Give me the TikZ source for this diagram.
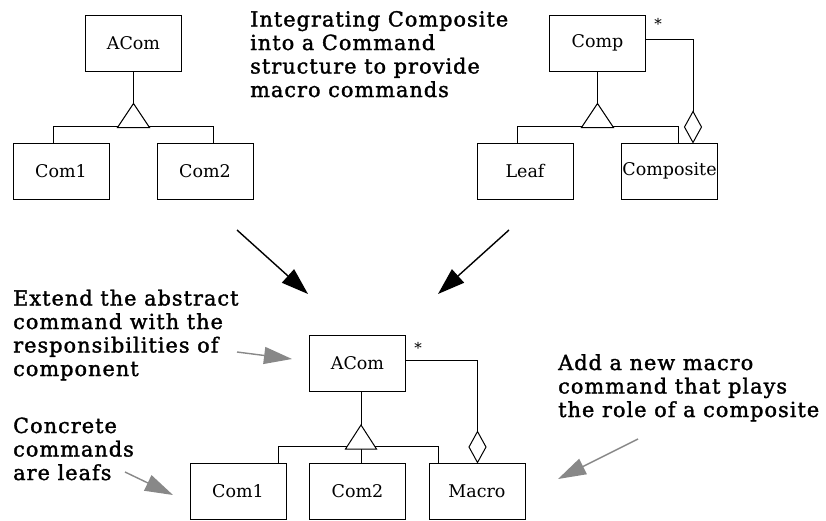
\documentclass[tikz,border=0pt]{standalone}
\usepackage{fontspec}
\setmainfont{DejaVu Serif}
\newfontfamily\notefont[FakeBold=1.6,LetterSpace=5]{DejaVu Serif}
\usetikzlibrary{arrows.meta,calc}
\definecolor{arrowgrey}{RGB}{136,136,136}
\begin{document}
\begin{tikzpicture}[x=1pt,y=-1pt,
  cls/.style={draw,line width=1pt,minimum width=96pt,minimum height=56pt,inner sep=0pt,font=\fontsize{17.5}{19}\selectfont},
  note/.style={align=left,inner sep=0pt,anchor=base west,font=\notefont\fontsize{20.8}{23.5}\selectfont},
  link/.style={line width=1pt},
  star/.style={inner sep=0pt,font=\fontsize{15}{15}\selectfont},
  bigarrow/.style={line width=1.4pt,-{Triangle[length=27pt,width=18pt]}},
  greyarrow/.style={draw=arrowgrey,fill=arrowgrey,line width=1.4pt,-{Triangle[length=28pt,width=17pt]}}]
\useasboundingbox (0,0) rectangle (826,520);

% ---- top left: command hierarchy
\node[cls] (a1) at (133.5,43) {ACom};
\node[cls] (c11) at (61,171) {Com1};
\node[cls] (c12) at (205,171) {Com2};
\coordinate (t1) at ($(a1.south)+(0,32)$);
\draw[link] (a1.south) -- (t1);
\draw[link] ([xshift=-8pt]c11.north) -- ++(0,-16) -| ([xshift=8pt]c12.north);
\draw[link,fill=white] (t1) -- ++(-16,24) -- ++(32,0) -- cycle;

% ---- top right: composite
\node[cls] (cp) at (597.5,43) {Comp};
\node[cls] (lf) at (525,171) {Leaf};
\node[cls] (cs) at (669.5,171) {Composite};
\coordinate (t2) at ($(cp.south)+(0,32)$);
\draw[link] (cp.south) -- (t2);
\draw[link] ([xshift=-8pt]lf.north) -- ++(0,-16) -| ([xshift=8.5pt]cs.north);
\draw[link,fill=white] (t2) -- ++(-16,24) -- ++(32,0) -- cycle;
\coordinate (d2) at ($(cs.north)+(23.5,0)$);
\draw[link] ([yshift=4pt]cp.east) -| ($(d2)+(0,-31)$);
\draw[link,fill=white] (d2) -- ++(8.5,-15.5) -- ++(-8.5,-15.5) -- ++(-8.5,15.5) -- cycle;
\node[star] (s1) at (658,24) {*};

% ---- bottom: macro command
\node[cls] (a3) at (357.5,363.5) {ACom};
\node[cls] (c31) at (238,491) {Com1};
\node[cls] (c32) at (357.5,491) {Com2};
\node[cls] (mc) at (477,491) {Macro};
\coordinate (t3) at ($(a3.south)+(3.5,33)$);
\draw[link] ([xshift=3.5pt]a3.south) -- (t3);
\draw[link] ([xshift=40pt]c31.north) -- ++(0,-16) -| ([xshift=-39pt]mc.north);
\draw[link] ($(t3)+(0,24)$) -- ([xshift=3.5pt]c32.north);
\draw[link,fill=white] (t3) -- ++(-15.5,24) -- ++(31,0) -- cycle;
\coordinate (d3) at ($(mc.north)+(0.5,0)$);
\draw[link] ([yshift=3.5pt]a3.east) -| ($(d3)+(0,-31)$);
\draw[link,fill=white] (d3) -- ++(8.5,-15.5) -- ++(-8.5,-15.5) -- ++(-8.5,15.5) -- cycle;
\node[star] (s2) at (418,348) {*};

% ---- big arrows
\coordinate (ba1s) at (237,230); \coordinate (ba1e) at (308,294);
\coordinate (ba2s) at (509,230); \coordinate (ba2e) at (438,294);
\draw[bigarrow] (ba1s) -- (ba1e);
\draw[bigarrow] (ba2s) -- (ba2e);

% ---- notes (anchored at the baseline of their last line)
\node[note] (title) at (250,97) {Integrating Composite\\into a Command\\structure to provide\\macro commands};
\node[note] (ext) at (13,376) {Extend the abstract\\command with the\\responsibilities of\\component};
\node[note] (conc) at (13,480) {Concrete\\commands\\are leafs};
\node[note] (add) at (558,417) {Add a new macro\\command that plays\\the role of a composite};

% ---- grey arrows
\coordinate (g1s) at (237,352); \coordinate (g1e) at (292,359);
\coordinate (g2s) at (125,472); \coordinate (g2e) at (173,495);
\coordinate (g3s) at (638,439); \coordinate (g3e) at (558,479);
\draw[greyarrow] (g1s) -- (g1e);
\draw[greyarrow] (g2s) -- (g2e);
\draw[greyarrow] (g3s) -- (g3e);
\end{tikzpicture}
\end{document}
